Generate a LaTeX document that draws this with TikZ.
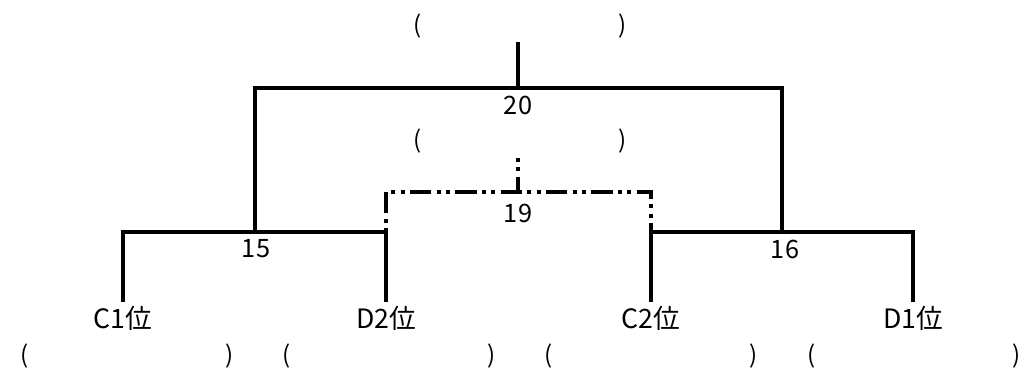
\documentclass[tikz,border=0pt]{standalone}
\usepackage{fontspec}
\setmainfont{Noto Sans CJK JP}
\newcommand{\blankpair}{(\hspace{148pt})}

\begin{document}
\begin{tikzpicture}[x=0.75pt, y=-0.75pt,
    bar/.style={line width=3pt},
    dashbar/.style={line width=2.6pt, dash pattern=on 3pt off 4pt on 3pt off 4pt on 16pt off 4pt},
    score/.style={font=\fontsize{19pt}{21pt}\selectfont, inner sep=0pt},
    team/.style={font=\fontsize{20pt}{22pt}\selectfont, inner xsep=0pt, inner ysep=3pt, anchor=north},
    blank/.style={font=\fontsize{18pt}{20pt}\selectfont, inner sep=0pt}]
    \useasboundingbox (0,0) rectangle (1026,372);

    % Final
    \node[blank] (p20) at (520,26) {\blankpair};
    \coordinate (top20) at (518,42);
    \coordinate (j20) at (518,88);
    \node[score] (n20) at (518,105) {20};

    % Third place match
    \node[blank] (p19) at (520,141) {\blankpair};
    \coordinate (top19) at (518,158);
    \coordinate (j19) at (518,192);
    \node[score] (n19) at (518,213) {19};

    % Semi finals
    \coordinate (j15) at (255,232);
    \coordinate (j16) at (782,232);
    \node[score] (n15) at (256,249) {15};
    \node[score] (n16) at (785,249) {16};

    % Teams
    \node[team] (c1) at (123,302) {C1位};
    \node[team] (d2) at (386,302) {D2位};
    \node[team] (c2) at (651,302) {C2位};
    \node[team] (d1) at (913,302) {D1位};

    \node[blank] (pc1) at (127,356) {\blankpair};
    \node[blank] (pd2) at (389,356) {\blankpair};
    \node[blank] (pc2) at (651,356) {\blankpair};
    \node[blank] (pd1) at (914,356) {\blankpair};

    % Lines
    \draw[bar] (top20) -- (j20);
    \draw[bar] (j15) |- (j20) -| (j16);
    \draw[bar] (c1.north) |- (j15) -| (d2.north);
    \draw[bar] (c2.north) |- (j16) -| (d1.north);
    \draw[dashbar] (top19) -- (j19);
    \draw[dashbar] (d2.north |- j15) |- (j19) -| (c2.north |- j16);
\end{tikzpicture}
\end{document}
